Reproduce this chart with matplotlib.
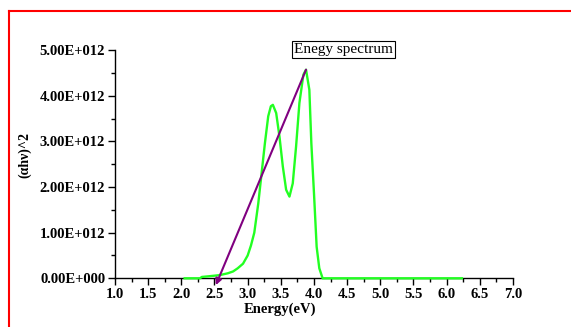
import matplotlib
matplotlib.use("Agg")
import matplotlib.pyplot as plt
from matplotlib.lines import Line2D
from matplotlib.ticker import MultipleLocator

# Data (energy in eV, (alpha h nu)^2 in units of 1e12)
energy = [2.05, 2.28, 2.31, 2.45, 2.58, 2.70, 2.78, 2.85, 2.93, 3.00, 3.05, 3.10,
          3.16, 3.21, 3.26, 3.31, 3.35, 3.38, 3.43, 3.48, 3.53, 3.58, 3.63, 3.68,
          3.73, 3.78, 3.84, 3.88, 3.93, 3.96, 4.00, 4.04, 4.08, 4.13, 6.23]
absorb = [0.0, 0.0, 0.03, 0.05, 0.07, 0.11, 0.15, 0.22, 0.32, 0.50, 0.72, 1.00,
          1.64, 2.30, 2.96, 3.55, 3.77, 3.80, 3.62, 3.10, 2.45, 1.94, 1.79, 2.08,
          2.89, 3.84, 4.46, 4.57, 4.13, 2.96, 1.86, 0.69, 0.22, 0.0, 0.0]
absorb = [v * 1e12 for v in absorb]

# Tangent (band-gap extrapolation) arrow: start and end points
fit_x = [3.88, 2.52]
fit_y = [4.57e12, -0.15e12]

xticks = [1.0, 1.5, 2.0, 2.5, 3.0, 3.5, 4.0, 4.5, 5.0, 5.5, 6.0, 6.5, 7.0]
yticks = [0, 1e12, 2e12, 3e12, 4e12, 5e12]
ytick_labels = ["0.00E+000", "1.00E+012", "2.00E+012", "3.00E+012", "4.00E+012", "5.00E+012"]

serif = ["Liberation Serif", "DejaVu Serif"]

fig = plt.figure(figsize=(5.71, 3.27), dpi=100)
ax = fig.add_axes([0.2014, 0.1489, 0.697, 0.698])

ax.plot(energy, absorb, color="#22ff22", lw=1.7, clip_on=False, zorder=3)
ax.annotate("", xy=(fit_x[1], fit_y[1]), xytext=(fit_x[0], fit_y[0]),
            arrowprops=dict(arrowstyle="-|>", color="#800080", lw=1.5,
                            mutation_scale=9, shrinkA=0, shrinkB=0),
            annotation_clip=False, zorder=4)

ax.set_xlim(1.0, 7.0)
ax.set_ylim(0, 5e12)
ax.set_xticks(xticks)
ax.set_xticklabels([f"{t:.1f}" for t in xticks])
ax.set_yticks(yticks)
ax.set_yticklabels(ytick_labels)
ax.xaxis.set_minor_locator(MultipleLocator(0.25))
ax.yaxis.set_minor_locator(MultipleLocator(0.5e12))

for s in ["top", "right"]:
    ax.spines[s].set_visible(False)
for s in ["left", "bottom"]:
    ax.spines[s].set_linewidth(1.0)

ax.tick_params(which="major", direction="out", length=5, width=1, pad=2)
ax.tick_params(which="minor", direction="out", length=3, width=1)
for lab in ax.get_xticklabels() + ax.get_yticklabels():
    lab.set_fontfamily(serif)
    lab.set_fontweight("bold")
    lab.set_fontsize(10.5)

fig.text(280 / 571, 1 - 309 / 327, "Energy(eV)", ha="center", va="center",
         fontfamily=serif, fontweight="bold", fontsize=10.5)
fig.text(25 / 571, 1 - 155 / 327, "(αhν)^2", ha="center", va="center", rotation=90,
         fontfamily=serif, fontweight="bold", fontsize=10)

ax.text(0.574, 1.0026, "Enegy spectrum", transform=ax.transAxes, ha="center", va="center",
        fontfamily=serif, fontsize=11,
        bbox=dict(boxstyle="square,pad=0.15", facecolor="white", edgecolor="black", lw=0.8))

# red outer frame (top and left edges)
fig.add_artist(Line2D([9 / 571, 1.0], [1 - 11 / 327, 1 - 11 / 327], color="red", lw=1.5,
                      transform=fig.transFigure))
fig.add_artist(Line2D([9 / 571, 9 / 571], [0.0, 1 - 11 / 327], color="red", lw=1.5,
                      transform=fig.transFigure))

fig.savefig("out.png", dpi=100)
